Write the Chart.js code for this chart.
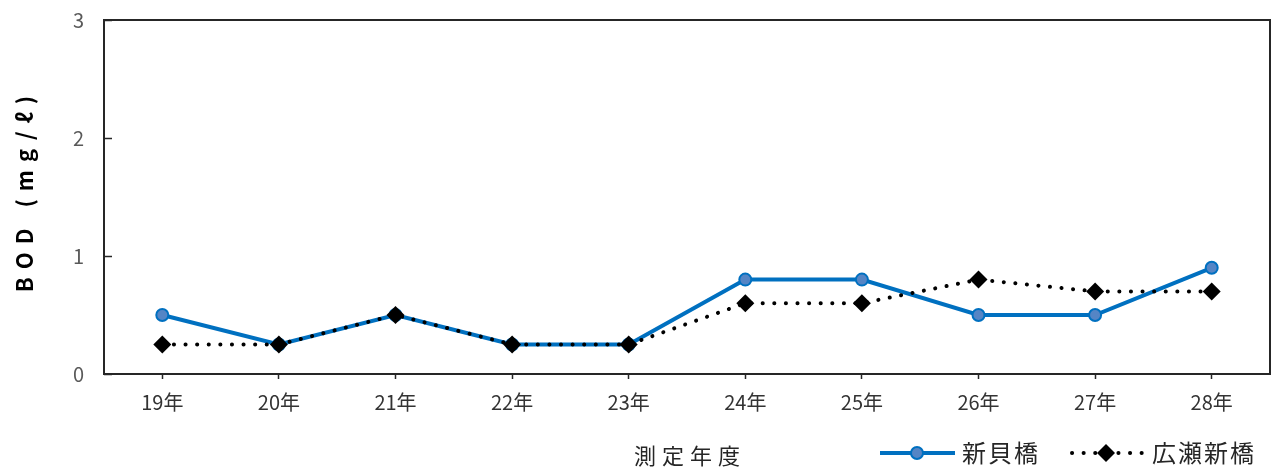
<!DOCTYPE html>
<html>
<head>
<meta charset="utf-8">
<script src="https://cdn.jsdelivr.net/npm/chart.js@4"></script>
<style>
  html, body { margin: 0; padding: 0; background: #ffffff; }
  #wrap { width: 1279px; height: 470px; }
</style>
</head>
<body>
<div id="wrap"><canvas id="bod"></canvas></div>
<script>
// Years (測定年度)
const years = ["19年", "20年", "21年", "22年", "23年", "24年", "25年", "26年", "27年", "28年"];
// BOD values (mg/ℓ)
const shinkaibashi = [0.5, 0.25, 0.5, 0.25, 0.25, 0.8, 0.8, 0.5, 0.5, 0.9];
const hirosesinbashi = [0.25, 0.25, 0.5, 0.25, 0.25, 0.6, 0.6, 0.8, 0.7, 0.7];
const seriesNames = ["新貝橋", "広瀬新橋"];
const yTicks = [0, 1, 2, 3];

const jpFont = "'Noto Sans CJK JP', 'Noto Sans', sans-serif";

// Frame, inward y ticks, axis titles and legend
const extras = {
  id: "extras",
  afterDraw(chart) {
    const ctx = chart.ctx;
    const a = chart.chartArea;
    const y = chart.scales.y;
    ctx.save();
    ctx.strokeStyle = "#262626";
    ctx.lineWidth = 2;
    ctx.strokeRect(a.left, a.top, a.right - a.left, a.bottom - a.top);

    // inward ticks on the left axis
    ctx.lineWidth = 1.5;
    yTicks.forEach(v => {
      const py = Math.round(y.getPixelForValue(v)) + 0.5;
      ctx.beginPath();
      ctx.moveTo(a.left, py);
      ctx.lineTo(a.left + 8, py);
      ctx.stroke();
    });

    // y axis title (rotated, spaced letters)
    ctx.save();
    ctx.translate(25, (a.top + a.bottom) / 2 - 3);
    ctx.rotate(-Math.PI / 2);
    ctx.fillStyle = "#000000";
    ctx.font = "bold 22px " + jpFont;
    ctx.textAlign = "center";
    ctx.textBaseline = "middle";
    ctx.letterSpacing = "8px";
    ctx.fillText("BOD (mg/ℓ)", 4, 0);
    ctx.restore();

    // x axis title
    ctx.fillStyle = "#262626";
    ctx.font = "22px " + jpFont;
    ctx.textAlign = "center";
    ctx.textBaseline = "middle";
    ctx.letterSpacing = "6px";
    ctx.fillText("測定年度", (a.left + a.right) / 2 + 3, 456);

    // legend
    const ly = 453;
    ctx.letterSpacing = "2px";
    ctx.font = "24px " + jpFont;
    ctx.textAlign = "left";

    const d0 = chart.data.datasets[0];
    ctx.strokeStyle = d0.borderColor;
    ctx.lineWidth = 4;
    ctx.beginPath();
    ctx.moveTo(880, ly);
    ctx.lineTo(955, ly);
    ctx.stroke();
    ctx.beginPath();
    ctx.arc(917, ly, 6, 0, Math.PI * 2);
    ctx.fillStyle = d0.pointBackgroundColor;
    ctx.fill();
    ctx.lineWidth = 2;
    ctx.stroke();
    ctx.fillStyle = "#262626";
    ctx.fillText(d0.label, 962, ly);

    const d1 = chart.data.datasets[1];
    ctx.strokeStyle = "#000000";
    ctx.lineWidth = 4;
    ctx.lineCap = "round";
    ctx.setLineDash([0.1, 11.5]);
    ctx.beginPath();
    ctx.moveTo(1072, ly);
    ctx.lineTo(1142, ly);
    ctx.stroke();
    ctx.setLineDash([]);
    ctx.fillStyle = "#000000";
    ctx.beginPath();
    ctx.moveTo(1106, ly - 9);
    ctx.lineTo(1115, ly);
    ctx.lineTo(1106, ly + 9);
    ctx.lineTo(1097, ly);
    ctx.closePath();
    ctx.fill();
    ctx.fillStyle = "#262626";
    ctx.fillText(d1.label, 1152, ly);
    ctx.restore();
  }
};

new Chart(document.getElementById("bod"), {
  type: "line",
  plugins: [extras],
  data: {
    labels: years,
    datasets: [
      {
        label: seriesNames[0],
        data: shinkaibashi,
        borderColor: "#0070c0",
        borderWidth: 4,
        pointStyle: "circle",
        pointRadius: 6,
        pointBorderWidth: 2,
        pointBackgroundColor: "#5585c5",
        pointBorderColor: "#0070c0",
        tension: 0,
        order: 2
      },
      {
        label: seriesNames[1],
        data: hirosesinbashi,
        borderColor: "#000000",
        borderWidth: 4,
        borderDash: [0.1, 11.5],
        borderCapStyle: "round",
        pointStyle: "rectRot",
        pointRadius: 9,
        pointBorderWidth: 0,
        pointBackgroundColor: "#000000",
        pointBorderColor: "#000000",
        tension: 0,
        order: 1
      }
    ]
  },
  options: {
    responsive: true,
    maintainAspectRatio: false,
    animation: false,
    layout: { padding: { top: 20, right: 6, bottom: 0, left: 0 } },
    plugins: {
      legend: { display: false },
      tooltip: { enabled: false }
    },
    scales: {
      x: {
        offset: true,
        grid: {
          display: true,
          drawOnChartArea: false,
          drawTicks: true,
          tickLength: 5,
          tickColor: "#262626",
          tickWidth: 1.5
        },
        border: { display: false },
        ticks: {
          color: "#333333",
          padding: 11,
          font: { family: jpFont, size: 20 }
        },
        afterFit(scale) { scale.height = 96; }
      },
      y: {
        min: 0,
        max: 3,
        grid: { display: false, drawTicks: false },
        border: { display: false },
        afterBuildTicks(scale) { scale.ticks = yTicks.map(v => ({ value: v })); },
        ticks: {
          color: "#595959",
          padding: 20,
          font: { family: jpFont, size: 20 }
        },
        afterFit(scale) {
          scale.width = 104;
          scale.paddingTop = 12;
          scale.paddingBottom = 12;
        }
      }
    }
  }
});
</script>
</body>
</html>
